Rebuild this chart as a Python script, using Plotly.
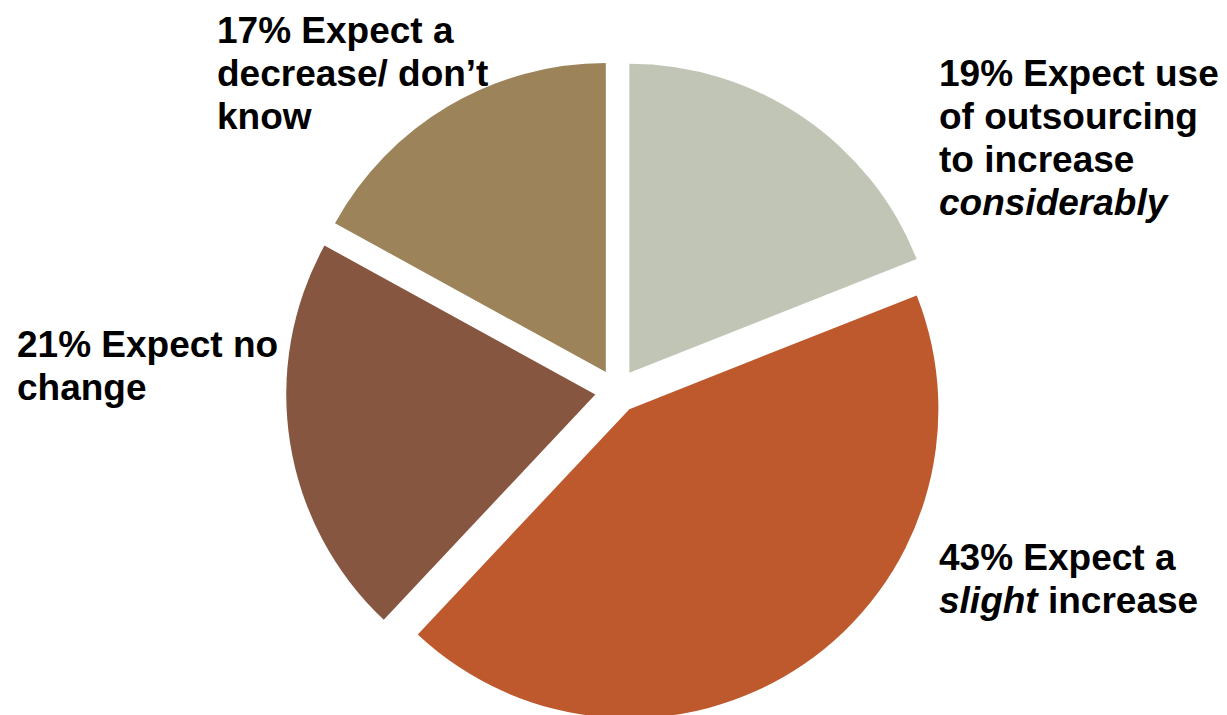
import plotly.graph_objects as go

# ---- data ----
categories = [
    "Expect use of outsourcing to increase considerably",
    "Expect a slight increase",
    "Expect no change",
    "Expect a decrease/ don't know",
]
values = [19, 43, 21, 17]
colors = ["#C0C5B6", "#BD592D", "#875641", "#9C835A"]

# label text lines for each slice (same order as categories)
label_lines = [
    ["19% Expect use", "of outsourcing", "to increase", "<i>considerably</i>"],
    ["43% Expect a", "<i>slight</i> increase"],
    ["21% Expect no", "change"],
    ["17% Expect a", "decrease/ don\u2019t", "know"],
]

# ---- layout (pixels, measured on the page; page body has an 8px margin) ----
OFF = 8
W, H = 1219, 714
FONT_SIZE = 37
LINE_GAP = 43
label_left = [940, 940, 18, 218]
label_first_baseline = [86, 570, 357, 43]

PULL = 0.071
pie_h = 662.0 / H
cx = 609.0 / W

fig = go.Figure()
fig.add_trace(go.Pie(
    labels=categories,
    values=values,
    sort=False,
    direction="clockwise",
    rotation=0,
    pull=[PULL] * len(values),
    marker=dict(colors=colors, line=dict(width=0)),
    textinfo="none",
    hoverinfo="label+percent",
    showlegend=False,
    domain=dict(x=[cx - 0.3, cx + 0.3], y=[0.0, pie_h]),
))

annotations = []
for lines, lx, by in zip(label_lines, label_left, label_first_baseline):
    for i, line in enumerate(lines):
        base = by + i * LINE_GAP - OFF
        ycenter = base - 0.3465 * FONT_SIZE
        annotations.append(dict(
            text=line,
            x=(lx - 3 - OFF) / W,
            y=1 - ycenter / H,
            xref="paper", yref="paper",
            xanchor="left", yanchor="middle",
            showarrow=False,
            align="left",
            font=dict(family="Liberation Sans, Arial, sans-serif",
                      size=FONT_SIZE, color="#000000", weight="bold"),
        ))

fig.update_layout(
    width=W, height=H,
    margin=dict(l=0, r=0, t=0, b=0, pad=0),
    paper_bgcolor="#FFFFFF",
    plot_bgcolor="#FFFFFF",
    annotations=annotations,
)

fig.write_html("out.html")
